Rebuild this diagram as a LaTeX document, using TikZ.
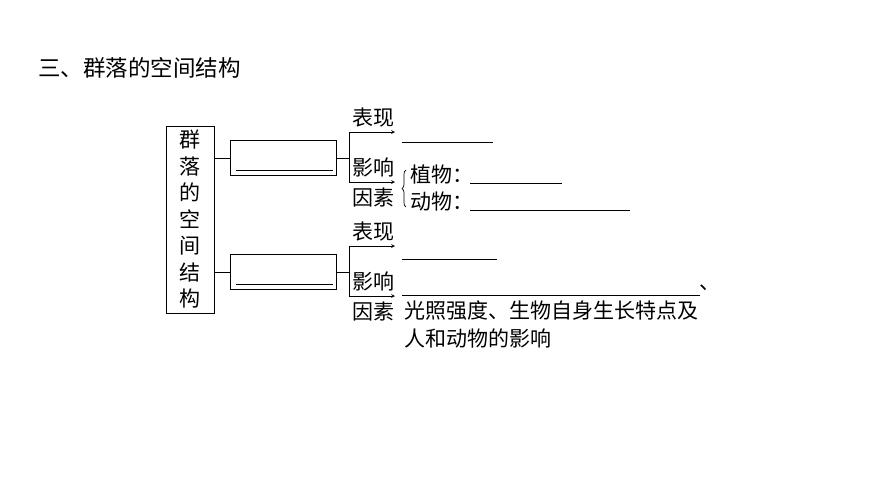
\documentclass[tikz,border=0pt]{standalone}
\usepackage{fontspec}
\setmainfont{Noto Sans CJK SC}
\usetikzlibrary{positioning,decorations.pathreplacing}
\tikzset{
  lbl/.style={inner sep=0pt,font=\fontsize{21}{24}\selectfont},
  box/.style={draw,line width=0.8pt},
  arr/.style={->,>=stealth,line width=0.7pt},
  blank/.style={line width=0.8pt}
}
\begin{document}
\begin{tikzpicture}[x=1pt,y=-1pt]
\useasboundingbox (0,0) rectangle (870,488);
\node (title) [anchor=west,inner sep=0pt,font=\fontsize{22.5}{26}\selectfont] at (38,68) {三、群落的空间结构};

% left box
\node (root) [box,minimum width=48pt,minimum height=187pt,inner sep=0pt,align=center,font=\fontsize{21}{26.5}\selectfont] at (190,219.5) {群\\落\\的\\空\\间\\结\\构};

% upper branch
\node (b1) [box,minimum width=106pt,minimum height=35pt,inner sep=0pt] at (283,158) {};
\draw[blank] (236,170) -- (333,170);
\draw[line width=0.8pt] (214,158) -- (b1.west);
\coordinate (j1) at (349,158);
\draw[line width=0.8pt] (b1.east) -- (j1);
\coordinate (t1) at (395,132);
\coordinate (t2) at (395,182);
\draw[arr] (349,182) -- (349,132) -- (t1);
\draw[arr] (349,132) -- (349,182) -- (t2);
\node (bx1) [lbl] at (373,118) {表现};
\node (yx1) [lbl] at (373,167) {影响};
\node (ys1) [lbl] at (373,197) {因素};
\draw[blank] (402,142) -- (493,142);
\draw[decorate,decoration={brace,amplitude=4pt},line width=0.7pt] (406,207) -- (406,170);
\node (zw) [lbl,anchor=west] at (410,174) {植物：};
\node (dw) [lbl,anchor=west] at (410,202) {动物：};
\draw[blank] (470,183) -- (562,183);
\draw[blank] (470,210) -- (630,210);

% lower branch
\node (b2) [box,minimum width=106pt,minimum height=35pt,inner sep=0pt] at (283,272) {};
\draw[blank] (236,284) -- (333,284);
\draw[line width=0.8pt] (214,272) -- (b2.west);
\coordinate (j2) at (349,272);
\draw[line width=0.8pt] (b2.east) -- (j2);
\coordinate (t3) at (395,246);
\coordinate (t4) at (395,296);
\draw[arr] (349,296) -- (349,246) -- (t3);
\draw[arr] (349,246) -- (349,296) -- (t4);
\node (bx2) [lbl] at (373,232) {表现};
\node (yx2) [lbl] at (373,281) {影响};
\node (ys2) [lbl] at (373,311) {因素};
\draw[blank] (402,259) -- (497,259);
\draw[blank] (402,295) -- (700,295);
\node (dun) [lbl] at (710,288) {、};
\node (gz) [lbl,anchor=west] at (404,311) {光照强度、生物自身生长特点及};
\node (rh) [lbl,anchor=west] at (404,338) {人和动物的影响};
\end{tikzpicture}
\end{document}
